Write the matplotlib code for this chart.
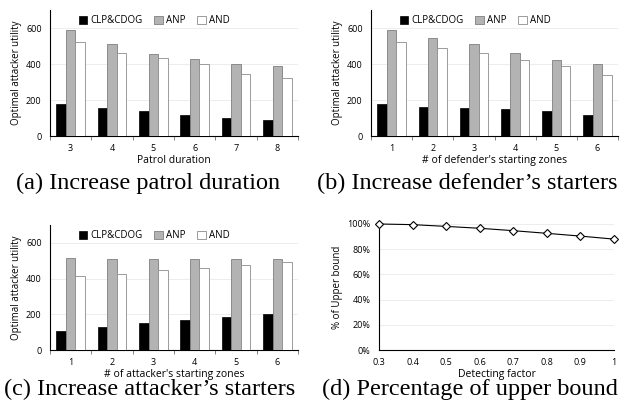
import matplotlib
matplotlib.use("Agg")
import matplotlib.pyplot as plt
import numpy as np

# panel (a): patrol duration
patrol = ["3", "4", "5", "6", "7", "8"]
a_clp = [177, 156, 140, 118, 100, 88]
a_anp = [587, 512, 457, 430, 398, 390]
a_and = [522, 462, 434, 400, 345, 322]

# panel (b): defender's starting zones
def_zones = ["1", "2", "3", "4", "5", "6"]
b_clp = [178, 163, 155, 148, 137, 115]
b_anp = [590, 545, 512, 462, 422, 400]
b_and = [522, 490, 462, 422, 390, 340]

# panel (c): attacker's starting zones
att_zones = ["1", "2", "3", "4", "5", "6"]
c_clp = [108, 130, 150, 170, 183, 200]
c_anp = [517, 507, 512, 512, 507, 512]
c_and = [412, 428, 450, 462, 478, 492]

# panel (d): percentage of upper bound
detect = [0.3, 0.4, 0.5, 0.6, 0.7, 0.8, 0.9, 1.0]
pct_upper = [1.000, 0.995, 0.981, 0.966, 0.947, 0.926, 0.904, 0.880]

series_names = ["CLP&CDOG", "ANP", "AND"]

sans = ["Open Sans", "DejaVu Sans"]
W, H = 624, 413
fig = plt.figure(figsize=(W / 100, H / 100), dpi=100)


def px_axes(left, top, right, bottom):
    return fig.add_axes([left / W, 1 - bottom / H, (right - left) / W, (bottom - top) / H])


def bar_panel(ax, cats, clp, anp, andv, xlabel):
    x = np.arange(len(cats))
    w = 0.23
    ax.bar(x - w, clp, w, color="black", edgecolor="black", lw=0.5, label=series_names[0], zorder=3)
    ax.bar(x, anp, w, color="#b3b3b3", edgecolor="#7f7f7f", lw=0.6, label=series_names[1], zorder=3)
    ax.bar(x + w, andv, w, color="white", edgecolor="#8c8c8c", lw=0.6, label=series_names[2], zorder=3)
    ax.set_xlim(-0.5, len(cats) - 0.5)
    ax.set_ylim(0, 700)
    ax.set_yticks([0, 200, 400, 600])
    ax.set_xticks(x)
    ax.set_xticklabels(cats)
    ax.set_xticks(np.arange(-0.5, len(cats)), minor=True)
    ax.tick_params(axis="x", which="major", length=0, pad=6, labelsize=6.5)
    ax.tick_params(axis="x", which="minor", length=3, width=0.5, color="#555555")
    ax.tick_params(axis="y", length=0, pad=6, labelsize=6.5)
    ax.grid(axis="y", color="#e6e6e6", lw=0.5, zorder=0)
    for s in ["top", "right"]:
        ax.spines[s].set_visible(False)
    ax.spines["left"].set_linewidth(0.8)
    ax.spines["bottom"].set_linewidth(0.8)
    ax.set_xlabel(xlabel, fontsize=7.5, labelpad=1, family=sans)
    ax.set_ylabel("Optimal attacker utility", fontsize=7, labelpad=3, family=sans)
    for t in ax.get_xticklabels() + ax.get_yticklabels():
        t.set_family(sans)
    ax.legend(loc="upper left", bbox_to_anchor=(0.1, 0.99), ncol=3, frameon=False,
              prop={"family": sans, "size": 7}, handlelength=0.9, handleheight=0.9,
              handletextpad=0.3, columnspacing=1.2, borderaxespad=0)


ax_a = px_axes(50, 10, 298, 136)
bar_panel(ax_a, patrol, a_clp, a_anp, a_and, "Patrol duration")

ax_b = px_axes(371, 10, 618, 136)
bar_panel(ax_b, def_zones, b_clp, b_anp, b_and, "# of defender's starting zones")

ax_c = px_axes(50, 225, 298, 350)
bar_panel(ax_c, att_zones, c_clp, c_anp, c_and, "# of attacker's starting zones")

ax_d = px_axes(379, 224, 614, 350)
ax_d.plot(detect, pct_upper, color="black", lw=0.8, marker="D", ms=4,
          mfc="white", mec="black", mew=0.8, clip_on=False, zorder=3)
ax_d.set_xlim(0.3, 1.0)
ax_d.set_ylim(0, 1.0)
ax_d.set_xticks(detect)
ax_d.set_xticklabels(["0.3", "0.4", "0.5", "0.6", "0.7", "0.8", "0.9", "1"])
ax_d.set_yticks([0, 0.2, 0.4, 0.6, 0.8, 1.0])
ax_d.set_yticklabels(["0%", "20%", "40%", "60%", "80%", "100%"])
ax_d.tick_params(length=0, pad=6, labelsize=6.5)
ax_d.grid(axis="y", color="#e6e6e6", lw=0.5, zorder=0)
for s in ["top", "right"]:
    ax_d.spines[s].set_visible(False)
ax_d.set_xlabel("Detecting factor", fontsize=7.5, labelpad=1, family=sans)
ax_d.set_ylabel("% of Upper bound", fontsize=7, labelpad=3, family=sans)
for t in ax_d.get_xticklabels() + ax_d.get_yticklabels():
    t.set_family(sans)

cap = dict(ha="center", va="center", fontsize=17.5, family="Liberation Serif")
fig.text(148 / W, 1 - 183 / H, "(a) Increase patrol duration", **cap)
fig.text(467 / W, 1 - 183 / H, "(b) Increase defender\u2019s starters", **cap)
fig.text(150 / W, 1 - 389 / H, "(c) Increase attacker\u2019s starters", **cap)
fig.text(470 / W, 1 - 389 / H, "(d) Percentage of upper bound", **cap)

fig.savefig("out.png", dpi=100)
